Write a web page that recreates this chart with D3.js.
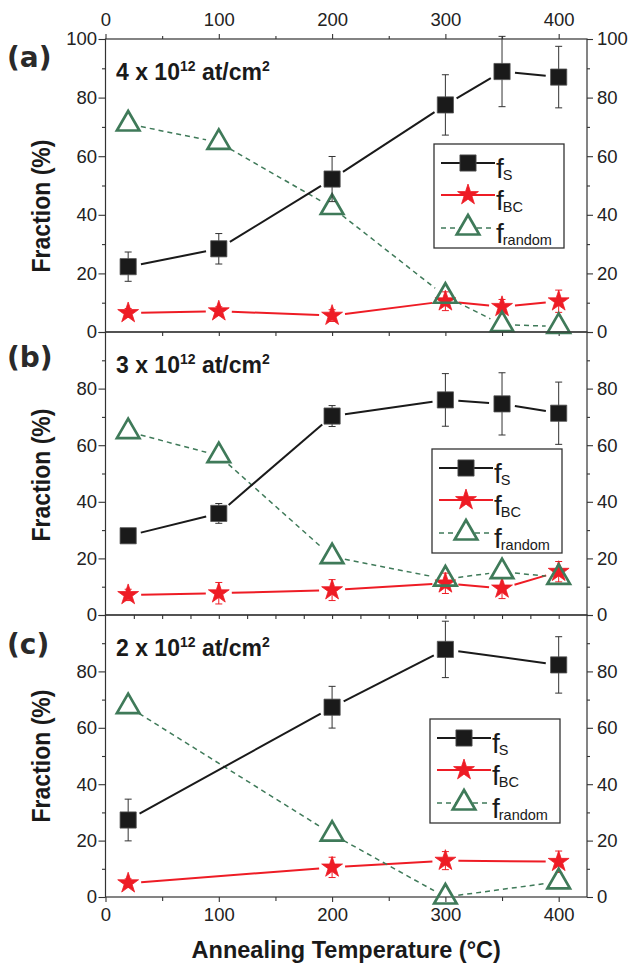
<!DOCTYPE html>
<html>
<head>
<meta charset="utf-8">
<script src="https://cdn.jsdelivr.net/npm/d3@7"></script>
<style>
  body { margin: 0; background: #fff; }
  text { font-family: "Liberation Sans", Arial, sans-serif; }
</style>
</head>
<body>
<svg id="chart"></svg>
<script>
// annealing temperatures (x), panel (c) has fewer points
const temps = [20, 100, 200, 300, 350, 400];
const tempsC = [20, 200, 300, 400];

// (a) 4 x 10^12 at/cm2
const fsA = [22.3, 28.4, 52.2, 77.5, 88.9, 87.0];
const fsErrA = [5.0, 5.2, 7.7, 10.3, 12.0, 10.5];
const fbcA = [6.5, 7.1, 5.6, 10.5, 8.6, 10.5];
const fbcErrA = [1.5, 1.5, 2.0, 3.2, 2.5, 3.8];
const frA = [71.0, 64.7, 42.5, 12.2, 2.5, 1.9];

// (b) 3 x 10^12 at/cm2
const fsB = [28.0, 35.9, 70.3, 76.0, 74.6, 71.3];
const fsErrB = [2.0, 3.5, 3.7, 9.3, 11.0, 11.0];
const fbcB = [7.1, 7.7, 8.8, 11.2, 9.4, 15.3];
const fbcErrB = [2.0, 3.8, 3.7, 3.6, 3.6, 3.6];
const frB = [64.8, 56.3, 20.6, 12.7, 15.3, 13.3];

// (c) 2 x 10^12 at/cm2
const fsC = [27.3, 67.3, 87.8, 82.3];
const fsErrC = [7.4, 7.4, 10.0, 10.0];
const fbcC = [4.9, 10.5, 12.9, 12.5];
const fbcErrC = [1.5, 3.6, 3.2, 3.8];
const frC = [67.5, 22.3, 0.0, 5.4];

const panelLetters = ["(a)", "(b)", "(c)"];
const doses = ["4", "3", "2"];
const legendSubs = ["S", "BC", "random"];
const yTicks = [0, 20, 40, 60, 80, 100];
const yMinor = [10, 30, 50, 70, 90];
const xLabels = [0, 100, 200, 300, 400];

const W = 631, H = 964;
const svg = d3.select("#chart").attr("width", W).attr("height", H);

const x = d3.scaleLinear().domain([0, 425]).range([105.5, 587]);

// panel boxes + where things sit inside them
const layout = [
  {top: 39,  bottom: 332, letterY: 67,  titleY: 206, legX: 434, legY: 144, maxLabel: 100},
  {top: 332, bottom: 615, letterY: 367, titleY: 475, legX: 432, legY: 449, maxLabel: 80},
  {top: 615, bottom: 897, letterY: 654, titleY: 756, legX: 430, legY: 719, maxLabel: 80}
];

const panels = [
  {xs: temps,  fs: fsA, fsErr: fsErrA, fbc: fbcA, fbcErr: fbcErrA, fr: frA},
  {xs: temps,  fs: fsB, fsErr: fsErrB, fbc: fbcB, fbcErr: fbcErrB, fr: frB},
  {xs: tempsC, fs: fsC, fsErr: fsErrC, fbc: fbcC, fbcErr: fbcErrC, fr: frC}
];

const axisCol = "#333";
const green = "#3f7a59", red = "#ee1c25", black = "#1a1a1a";

const styles = {
  fbc: {color: red,   dash: null,  sym: d3.symbolStar,     size: 135, fill: red,   stroke: red,    sw: 0.8, lw: 2},
  fr:  {color: green, dash: "5,4", sym: d3.symbolTriangle, size: 220, fill: "none", stroke: green, sw: 2.7, lw: 1.5},
  fs:  {color: black, dash: null,  sym: d3.symbolSquare,   size: 262, fill: black, stroke: "#555", sw: 0.8, lw: 2}
};

function styleAxis(g, size) {
  g.select(".domain").remove();
  g.selectAll(".tick line").attr("stroke", axisCol).attr("stroke-width", 1.1);
  g.selectAll(".tick text").attr("fill", "#222").style("font-size", (size || 18.5) + "px")
    .style("font-family", '"Liberation Sans", Arial, sans-serif');
}

// segments with gaps around markers
function gappedSegments(pts, gap) {
  const segs = [];
  for (let i = 0; i < pts.length - 1; i++) {
    const [x1, y1] = pts[i], [x2, y2] = pts[i + 1];
    const len = Math.hypot(x2 - x1, y2 - y1);
    if (len <= 2 * gap) continue;
    const ux = (x2 - x1) / len, uy = (y2 - y1) / len;
    segs.push([[x1 + ux * gap, y1 + uy * gap], [x2 - ux * gap, y2 - uy * gap]]);
  }
  return segs;
}

layout.forEach((L, pi) => {
  const P = panels[pi];
  const y = d3.scaleLinear().domain([0, 100]).range([L.bottom, L.top]);
  const g = svg.append("g");

  // left axis
  g.append("g").attr("transform", `translate(${x.range()[0]},0)`)
    .call(d3.axisLeft(y).tickValues(yTicks).tickSize(7).tickSizeOuter(0).tickPadding(1.5)
      .tickFormat(d => d <= L.maxLabel ? d : ""))
    .call(a => styleAxis(a));
  g.append("g").attr("transform", `translate(${x.range()[0]},0)`)
    .call(d3.axisLeft(y).tickValues(yMinor).tickSize(3.5).tickSizeOuter(0).tickFormat(""))
    .call(a => styleAxis(a));

  // right axis
  g.append("g").attr("transform", `translate(${x.range()[1]},0)`)
    .call(d3.axisRight(y).tickValues(yTicks).tickSize(6).tickSizeOuter(0).tickPadding(4)
      .tickFormat(d => d <= L.maxLabel ? d : ""))
    .call(a => styleAxis(a));
  g.append("g").attr("transform", `translate(${x.range()[1]},0)`)
    .call(d3.axisRight(y).tickValues(yMinor).tickSize(3).tickSizeOuter(0).tickFormat(""))
    .call(a => styleAxis(a));

  // frame
  g.append("rect")
    .attr("x", x.range()[0]).attr("y", L.top)
    .attr("width", x.range()[1] - x.range()[0]).attr("height", L.bottom - L.top)
    .attr("fill", "none").attr("stroke", axisCol).attr("stroke-width", 1.2);

  // x ticks along the bottom of each panel
  if (pi === 0) {
    g.append("g").attr("transform", `translate(0,${L.top})`)
      .call(d3.axisTop(x).tickValues(xLabels).tickSize(5).tickSizeOuter(0).tickPadding(8))
      .call(a => styleAxis(a));
    g.append("g").attr("transform", `translate(0,${L.top})`)
      .call(d3.axisTop(x).tickValues([50, 150, 250, 350]).tickSize(3).tickSizeOuter(0).tickFormat(""))
      .call(a => styleAxis(a));
  }
  if (pi === 2) {
    g.append("g").attr("transform", `translate(0,${L.bottom})`)
      .call(d3.axisBottom(x).tickValues(xLabels).tickSize(5).tickSizeOuter(0).tickPadding(6))
      .call(a => styleAxis(a));
    g.append("g").attr("transform", `translate(0,${L.bottom})`)
      .call(d3.axisBottom(x).tickValues([50, 150, 250, 350]).tickSize(4).tickSizeOuter(0).tickFormat(""))
      .call(a => styleAxis(a));
  } else {
    const step = pi === 0 ? 50 : 25;
    g.append("g").attr("transform", `translate(0,${L.bottom})`)
      .call(d3.axisBottom(x).tickValues(d3.range(step, 401, step)).tickSize(4).tickSizeOuter(0).tickFormat(""))
      .call(a => styleAxis(a));
  }

  // panel letter, dose title, y title
  g.append("text").attr("x", 7).attr("y", L.letterY)
    .style("font-family", '"DejaVu Sans", sans-serif').style("font-weight", "bold")
    .style("font-size", "28px").attr("fill", "#2a2a2a").text(panelLetters[pi]);

  const t = g.append("text").attr("x", 116).attr("y", L.top + 41)
    .style("font-weight", "bold").style("font-size", "23px").attr("fill", "#1a1a1a");
  t.append("tspan").text(doses[pi] + " x 10");
  t.append("tspan").attr("dy", -9).style("font-size", "14px").text("12");
  t.append("tspan").attr("dy", 9).text(" at/cm");
  t.append("tspan").attr("dy", -9).style("font-size", "14px").text("2");

  g.append("text")
    .attr("transform", `translate(50,${L.titleY}) rotate(-90) scale(0.92,1)`)
    .attr("text-anchor", "middle")
    .style("font-weight", "bold").style("font-size", "25px").attr("fill", "#1a1a1a")
    .text("Fraction (%)");

  // series
  ["fbc", "fr", "fs"].forEach(key => {
    const s = styles[key];
    const vals = P[key];
    const pts = P.xs.map((t, i) => [x(t), y(vals[i])]);

    g.selectAll(null).data(gappedSegments(pts, 13)).join("line")
      .attr("x1", d => d[0][0]).attr("y1", d => d[0][1])
      .attr("x2", d => d[1][0]).attr("y2", d => d[1][1])
      .attr("stroke", s.color).attr("stroke-width", s.lw)
      .attr("stroke-dasharray", s.dash);

    const errs = P[key + "Err"];
    if (errs) {
      const eb = g.selectAll(null).data(P.xs.map((t, i) => ({t, v: vals[i], e: errs[i]})))
        .join("g").attr("stroke", key === "fs" ? "#333" : red).attr("stroke-width", 1);
      eb.append("line").attr("x1", d => x(d.t)).attr("x2", d => x(d.t))
        .attr("y1", d => y(d.v - d.e)).attr("y2", d => y(d.v + d.e));
      eb.append("line").attr("x1", d => x(d.t) - 3.5).attr("x2", d => x(d.t) + 3.5)
        .attr("y1", d => y(d.v + d.e)).attr("y2", d => y(d.v + d.e));
      eb.append("line").attr("x1", d => x(d.t) - 3.5).attr("x2", d => x(d.t) + 3.5)
        .attr("y1", d => y(d.v - d.e)).attr("y2", d => y(d.v - d.e));
    }

    g.selectAll(null).data(pts).join("path")
      .attr("transform", d => `translate(${d[0]},${d[1]})`)
      .attr("d", d3.symbol(s.sym, s.size))
      .attr("fill", s.fill).attr("stroke", s.stroke).attr("stroke-width", s.sw);
  });

  // legend
  const lg = g.append("g").attr("transform", `translate(${L.legX},${L.legY})`);
  lg.append("rect").attr("width", 130).attr("height", 104)
    .attr("fill", "#fff").attr("stroke", axisCol).attr("stroke-width", 1.3);
  ["fs", "fbc", "fr"].forEach((key, i) => {
    const s = styles[key];
    const ry = [19, 51, 84][i];
    lg.append("line").attr("x1", 7).attr("x2", 61).attr("y1", ry).attr("y2", ry)
      .attr("stroke", s.color).attr("stroke-width", s.lw).attr("stroke-dasharray", s.dash);
    lg.append("path").attr("transform", `translate(34,${ry})`)
      .attr("d", d3.symbol(s.sym, s.size))
      .attr("fill", s.fill === "none" ? "#fff" : s.fill).attr("stroke", s.stroke).attr("stroke-width", s.sw);
    const tx = lg.append("text").attr("x", 62).attr("y", ry + 15).attr("fill", "#1a1a1a")
      .style("font-size", "28px");
    tx.append("tspan").text("f");
    tx.append("tspan").attr("dy", 2).attr("dx", -1).style("font-size", "14.5px").text(legendSubs[i]);
  });
});

// x axis title
svg.append("text")
  .attr("x", (x.range()[0] + x.range()[1]) / 2).attr("y", 958)
  .attr("text-anchor", "middle")
  .style("font-weight", "bold").style("font-size", "23.5px").attr("fill", "#1a1a1a")
  .text("Annealing Temperature (°C)");
</script>
</body>
</html>
